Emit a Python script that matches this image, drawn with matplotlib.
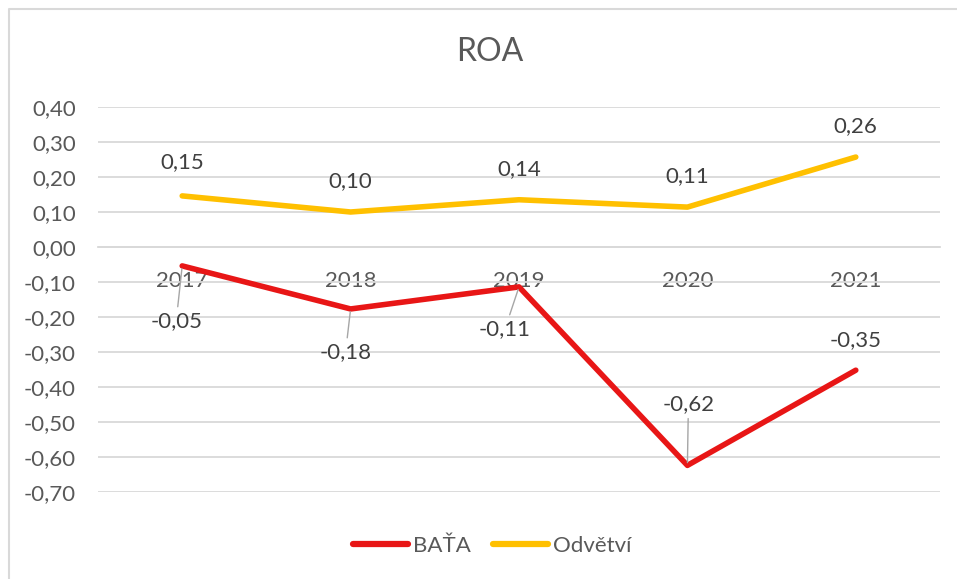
import numpy as np
import matplotlib.pyplot as plt
from matplotlib.lines import Line2D

plt.rcParams['font.family'] = ['Lato', 'DejaVu Sans']

years = ['2017', '2018', '2019', '2020', '2021']
bata = [-0.054, -0.177, -0.114, -0.624, -0.352]
odvetvi = [0.146, 0.100, 0.135, 0.114, 0.257]
yticks = np.round(np.arange(-0.7, 0.41, 0.1), 2)

# label offsets in pixels (dx, dy), leader line on/off
bata_offsets = [(-6, -55, True), (-5, -43, True), (-14, -42, True), (1, 61, True), (0, 30, False)]
odv_offsets = [(0, 34), (0, 31), (0, 31), (0, 31), (0, 31)]

RED = '#E81616'
YELLOW = '#FFC000'
GRAY = '#595959'

def fmt(v):
    v = round(v, 2) + 0.0
    if v == 0:
        v = 0.0
    return f"{v:.2f}".replace('.', ',')

fig = plt.figure(figsize=(9.57, 5.79), dpi=100)
ax = fig.add_axes([98 / 957, 87 / 579, 842 / 957, 385 / 579])

x = np.arange(len(years))
ax.plot(x, bata, color=RED, lw=4, solid_capstyle='round', solid_joinstyle='round', zorder=3)
ax.plot(x, odvetvi, color=YELLOW, lw=4, solid_capstyle='round', solid_joinstyle='round', zorder=3)

for i, v in enumerate(bata):
    dx, dy, leader = bata_offsets[i]
    props = dict(arrowstyle='-', color='#A6A6A6', lw=1, shrinkA=1, shrinkB=2) if leader else None
    ax.annotate(fmt(v), (x[i], v), xytext=(dx, dy), textcoords='offset pixels',
                ha='center', va='center', fontsize=16, color='#404040',
                arrowprops=props, zorder=4)

for i, v in enumerate(odvetvi):
    dx, dy = odv_offsets[i]
    ax.annotate(fmt(v), (x[i], v), xytext=(dx, dy), textcoords='offset pixels',
                ha='center', va='center', fontsize=16, color='#404040', zorder=4)

ax.set_xlim(-0.5, len(years) - 0.5)
ax.set_ylim(-0.7, 0.4)
ax.set_yticks(yticks)
ax.set_yticklabels([fmt(t) for t in yticks])
ax.set_xticks(x)
ax.set_xticklabels(years)
ax.grid(axis='y', color='#D9D9D9', lw=1.3)
ax.set_axisbelow(True)
for s in ['top', 'right', 'left']:
    ax.spines[s].set_visible(False)
ax.spines['bottom'].set_position(('data', 0))
ax.spines['bottom'].set_color('#D9D9D9')
ax.spines['bottom'].set_linewidth(1.3)
ax.tick_params(axis='y', length=0, pad=16, labelsize=16, labelcolor=GRAY)
ax.tick_params(axis='x', length=0, pad=17, labelsize=16, labelcolor=GRAY)

fig.text(490 / 957, 1 - 52 / 579, 'ROA', ha='center', va='center', fontsize=23, color=GRAY)

handles = [Line2D([], [], color=RED, lw=4.5, solid_capstyle='round'),
           Line2D([], [], color=YELLOW, lw=4.5, solid_capstyle='round')]
fig.legend(handles, ['BAŤA', 'Odvětví'], loc='center', bbox_to_anchor=(492 / 957, 1 - 546 / 579),
           ncol=2, frameon=False, fontsize=16, labelcolor=GRAY,
           handlelength=2.5, handletextpad=0.2, columnspacing=1.0)

# chart border (only top and left visible)
fig.add_artist(Line2D([8.5 / 957, 8.5 / 957, 1], [0, 1 - 8.5 / 579, 1 - 8.5 / 579],
                      transform=fig.transFigure, color='#D9D9D9', lw=1.5))

fig.savefig('out.png', dpi=100)
